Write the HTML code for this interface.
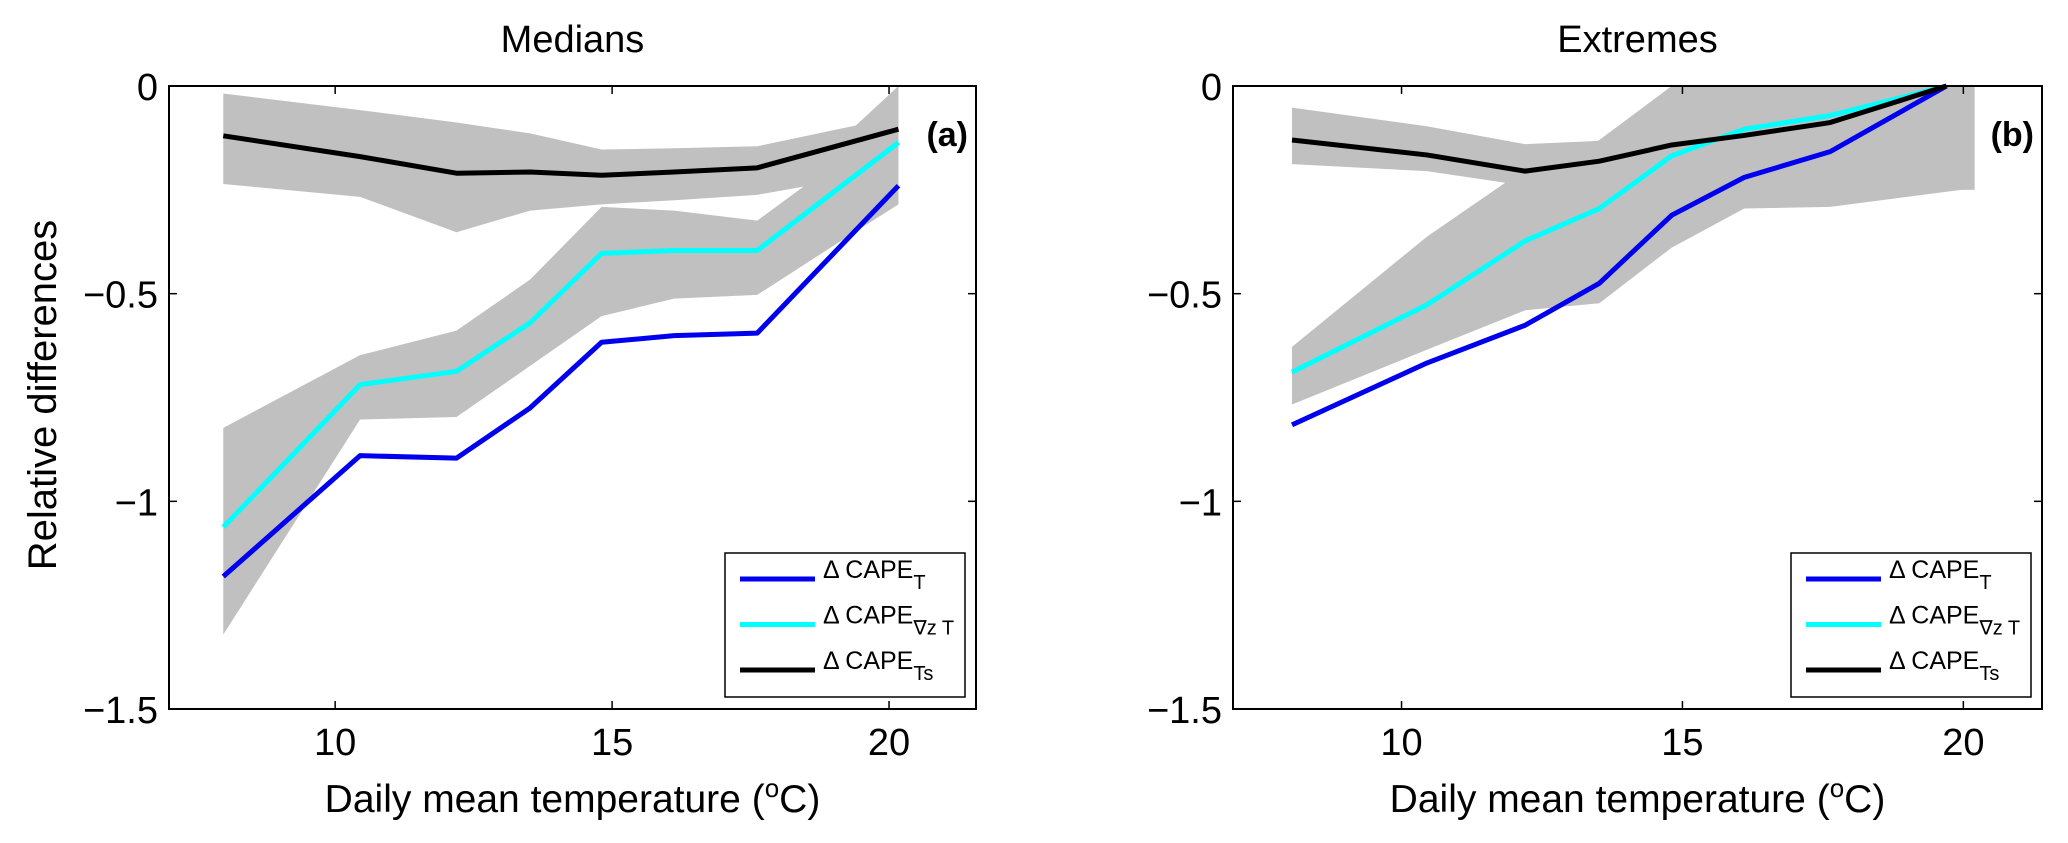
<!DOCTYPE html>
<html><head><meta charset="utf-8"><style>
html,body{margin:0;padding:0;background:#fff;}
svg{display:block;font-family:"Liberation Sans",Arial,sans-serif;}
</style></head><body>
<svg id="chart" width="2068" height="843" viewBox="0 0 2068 843" xmlns="http://www.w3.org/2000/svg"></svg>
<script>
const xTicks=[10,15,20];
const yTicks=[0,-0.5,-1,-1.5];
const yTickLabels=["0","\u22120.5","\u22121","\u22121.5"];
const xTickLabels=["10","15","20"];
// Panel a (Medians)
const aX=[7.98,10.45,12.19,13.52,14.81,16.12,17.62,20.17];
const aBlue=[-1.181,-0.89,-0.896,-0.775,-0.617,-0.601,-0.595,-0.24];
const aCyan=[-1.062,-0.719,-0.687,-0.57,-0.403,-0.396,-0.396,-0.136];
const aBlack=[-0.12,-0.17,-0.21,-0.207,-0.215,-0.207,-0.197,-0.104];
const aBandX=[7.98,10.45,12.19,13.52,14.81,16.12,17.62,19.4,20.17];
const aBlackUp=[-0.018,-0.058,-0.088,-0.114,-0.153,-0.150,-0.145,-0.095,0];
const aBlackLo=[-0.236,-0.267,-0.352,-0.300,-0.285,-0.275,-0.262,-0.22,-0.2];
const aCyanUp=[-0.823,-0.648,-0.589,-0.466,-0.291,-0.30,-0.324,-0.15,-0.05];
const aCyanLo=[-1.321,-0.803,-0.797,-0.674,-0.554,-0.512,-0.503,-0.35,-0.285];
// Panel b (Extremes)
const bX=[8.05,10.45,12.2,13.52,14.81,16.1,17.63,19.7];
const bBlue=[-0.816,-0.667,-0.576,-0.475,-0.311,-0.22,-0.158,0];
const bCyan=[-0.689,-0.527,-0.373,-0.295,-0.168,-0.104,-0.071,0];
const bBlack=[-0.13,-0.166,-0.205,-0.181,-0.142,-0.119,-0.088,0];
const bBandX=[8.05,10.45,12.2,13.52,14.81,16.1,17.63,20.2];
const bBlackUp=[-0.052,-0.097,-0.14,-0.132,0,0,0,0];
const bBlackLo=[-0.188,-0.205,-0.24,-0.25,-0.25,-0.25,-0.25,-0.25];
const bCyanUp=[-0.628,-0.363,-0.2,-0.13,0,0,0,0];
const bCyanLo=[-0.767,-0.635,-0.54,-0.523,-0.389,-0.295,-0.291,-0.246];

const NS="http://www.w3.org/2000/svg";
const svg=document.getElementById('chart');
function mk(tag,attrs,parent){const e=document.createElementNS(NS,tag);for(const k in attrs)e.setAttribute(k,attrs[k]);(parent||svg).appendChild(e);return e;}

function panel(p){
  const g=mk('g',{});
  
  
  const L=p.left,R=p.right,T=86,B=709,x0=7,x1=p.xmax,y0=0,y1=-1.5;
  const sx=v=>L+(v-x0)/(x1-x0)*(R-L);
  const sy=v=>T+(v-y0)/(y1-y0)*(B-T);
  function band(xs,up,lo,nm){
    let pts=xs.map((x,i)=>sx(x)+','+sy(up[i]));
    for(let i=xs.length-1;i>=0;i--)pts.push(sx(xs[i])+','+sy(lo[i]));
    const e=mk('polygon',{points:pts.join(' '),fill:'#c0c0c0',stroke:'none'},g);
    
    
  }
  band(p.bx,p.bkU,p.bkL,'black-band');
  band(p.bx,p.cyU,p.cyL,'cyan-band');
  function line(xs,ys,col,nm){
    const e=mk('polyline',{points:xs.map((x,i)=>sx(x)+','+sy(ys[i])).join(' '),fill:'none',stroke:col,'stroke-width':5,'stroke-linejoin':'round'},g);
    
    
  }
  line(p.x,p.blue,'#0000ee','line-cape-t');
  line(p.x,p.cyan,'#00ffff','line-cape-grad-t');
  line(p.x,p.black,'#000000','line-cape-ts');
  const fr=mk('rect',{x:L,y:T,width:R-L,height:B-T,fill:'none',stroke:'#000','stroke-width':2},g);
  
  
  xTicks.forEach((v,i)=>{
    const X=sx(v);
    mk('line',{x1:X,y1:B,x2:X,y2:B-8,stroke:'#000','stroke-width':1.5},g);
    mk('line',{x1:X,y1:T,x2:X,y2:T+8,stroke:'#000','stroke-width':1.5},g);
    const t=mk('text',{x:X,y:755,'font-size':38,'text-anchor':'middle'},g);
    t.textContent=xTickLabels[i];
    
    
  });
  yTicks.forEach((v,i)=>{
    const Y=sy(v);
    mk('line',{x1:L,y1:Y,x2:L+8,y2:Y,stroke:'#000','stroke-width':1.5},g);
    mk('line',{x1:R,y1:Y,x2:R-8,y2:Y,stroke:'#000','stroke-width':1.5},g);
    const t=mk('text',{x:L-11,y:Y+14,'font-size':38,'text-anchor':'end'},g);
    t.textContent=yTickLabels[i];
    
    
  });
  const ti=mk('text',{x:(L+R)/2,y:52,'font-size':38,'text-anchor':'middle'},g);
  ti.textContent=p.title;
  
  
  const xl=mk('text',{x:(L+R)/2,y:812,'font-size':39,'text-anchor':'middle'},g);
  xl.innerHTML='Daily mean temperature (<tspan baseline-shift="super" font-size="26">o</tspan>C)';
  
  
  const lb=mk('text',{x:R-8,y:146,'font-size':34,'font-weight':'bold','text-anchor':'end'},g);
  lb.textContent=p.label;
  
  
  // legend
  const lg=mk('g',{},g);
  
  
  const lx=R-251;
  mk('rect',{x:lx,y:553,width:240,height:144,fill:'#fff',stroke:'#000','stroke-width':1.5},lg);
  const ents=[['#0000ee','T'],['#00ffff','\u2207z T'],['#000','Ts']];
  ents.forEach((en,i)=>{
    const Y=579+i*45.5;
    const le=mk('g',{},lg);
    
    
    mk('line',{x1:lx+15,y1:Y,x2:lx+90,y2:Y,stroke:en[0],'stroke-width':5},le);
    const t=mk('text',{x:lx+98,y:Y-1,'font-size':25},le);
    t.innerHTML='\u0394 CAPE<tspan font-size="20" dy="11">'+en[1]+'</tspan>';
  });
  return g;
}
panel({name:'panel-medians',left:169,right:976,xmax:21.57,title:'Medians',label:'(a)',x:aX,blue:aBlue,cyan:aCyan,black:aBlack,bx:aBandX,bkU:aBlackUp,bkL:aBlackLo,cyU:aCyanUp,cyL:aCyanLo});
panel({name:'panel-extremes',left:1233,right:2042,xmax:21.4,title:'Extremes',label:'(b)',x:bX,blue:bBlue,cyan:bCyan,black:bBlack,bx:bBandX,bkU:bBlackUp,bkL:bBlackLo,cyU:bCyanUp,cyL:bCyanLo});
const yl=mk('text',{x:0,y:0,'font-size':40,'text-anchor':'middle',transform:'translate(56,395) rotate(-90)'});
yl.textContent='Relative differences';


</script>
</body></html>
